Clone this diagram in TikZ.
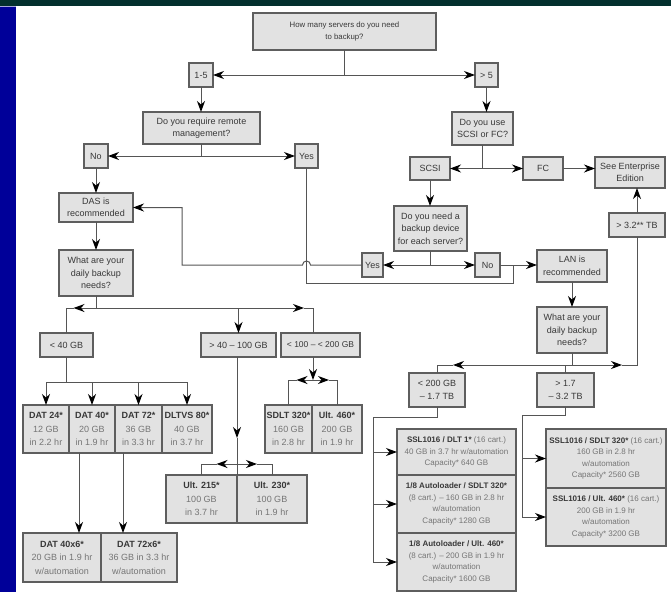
\documentclass[tikz,border=0pt]{standalone}
\usepackage{fontspec}
\setmainfont{Liberation Sans}
\usetikzlibrary{arrows.meta}
\definecolor{band}{HTML}{03302E}
\definecolor{sidebar}{HTML}{000099}
\definecolor{boxfill}{HTML}{E2E2E2}
\definecolor{boxline}{HTML}{5E5E5E}
\definecolor{wirecol}{HTML}{555555}
\definecolor{dimtext}{HTML}{757575}
\newcommand{\lite}[1]{\textcolor{dimtext}{#1}}
\tikzset{
  box/.style={draw=boxline, fill=boxfill, line width=1.1pt, align=center,
    inner sep=0.5pt, outer sep=0pt, text=black!78},
  qbox/.style={box, font=\fontsize{9}{12.5}\selectfont},
  databox/.style={box, font=\fontsize{9}{13.5}\selectfont},
  stackbox/.style={box, font=\fontsize{8}{11.5}\selectfont},
  wire/.style={draw=wirecol, line width=1pt},
  arr/.style={wire, -{Stealth[length=11pt,width=8pt,inset=3.5pt,color=black]}},
}

\begin{document}
\begin{tikzpicture}[x=1pt,y=-1pt]
  \useasboundingbox (0,0) rectangle (671,592);
  % page frame
  \fill[band] (0,0) rectangle (671,6);
  \fill[sidebar] (0,6) rectangle (16,592);
  \fill[sidebar!35!white] (0,6) rectangle (16,7.2);

  % questions and answers
  \node[qbox, font=\fontsize{7.8}{12.5}\selectfont, minimum width=183, minimum height=37] (q1) at (344.5,31.5) {How many servers do you need\\to backup?};
  \node[qbox, minimum size=24] (n15) at (201,75) {1-5};
  \node[qbox, minimum width=23, minimum height=24] (n5) at (486.5,75) {> 5};
  \node[qbox, minimum width=117, minimum height=32] (qremote) at (201.5,128) {Do you require remote\\management?};
  \node[qbox, minimum width=61, minimum height=33] (qscsi) at (482.5,128.5) {Do you use\\SCSI or FC?};
  \node[qbox, minimum size=24] (rno) at (96,156) {No};
  \node[qbox, minimum width=23, minimum height=24] (ryes) at (306.5,156) {Yes};
  \node[qbox, minimum width=74, minimum height=29] (das) at (96,207.5) {DAS is\\recommended};
  \node[qbox, minimum width=40, minimum height=23] (scsi) at (430,168.5) {SCSI};
  \node[qbox, minimum width=40, minimum height=23] (fc) at (543,168.5) {FC};
  \node[qbox, minimum width=70, minimum height=31] (enterp) at (630,172.5) {See Enterprise\\Edition};
  \node[qbox, minimum width=73, minimum height=45] (qdev) at (430.5,228.5) {Do you need a\\backup device\\for each server?};
  \node[qbox, minimum width=21, minimum height=24] (dyes) at (372.5,265) {Yes};
  \node[qbox, minimum width=25, minimum height=24] (dno) at (487.5,265) {No};
  \node[qbox, minimum width=70, minimum height=32] (lan) at (572,266) {LAN is\\recommended};
  \node[qbox, minimum width=56, minimum height=24] (big) at (637,225) {> 3.2** TB};
  \node[qbox, minimum width=74, minimum height=46] (needl) at (96,273) {What are your\\daily backup\\needs?};
  \node[qbox, minimum width=70, minimum height=46] (needr) at (572,330) {What are your\\daily backup\\needs?};
  \node[qbox, minimum width=53, minimum height=24] (lt40) at (66.5,345) {< 40 GB};
  \node[qbox, minimum width=75, minimum height=24] (mid) at (238.5,345) {> 40 – 100 GB};
  \node[qbox, font=\fontsize{8.5}{12.5}\selectfont, minimum width=79, minimum height=24] (hi) at (320.5,345) {< 100 – < 200 GB};
  \node[qbox, minimum width=56, minimum height=34] (lo) at (437,390) {< 200 GB\\– 1.7 TB};
  \node[qbox, minimum width=57, minimum height=34] (up) at (565.5,390) {> 1.7\\– 3.2 TB};

  % drives
  \foreach \dname/\dx/\dw/\dtitle/\dsize/\dtime in {
      dat24/46/46/DAT 24*/12 GB/in 2.2 hr,
      dat40/92/46/DAT 40*/20 GB/in 1.9 hr,
      dat72/138.5/47/DAT 72*/36 GB/in 3.3 hr,
      datvs/187/50/DLTVS 80*/40 GB/in 3.7 hr,
      sdlt/288.5/47/SDLT 320*/160 GB/in 2.8 hr,
      ult460/337/50/Ult. 460*/200 GB/in 1.9 hr} {
    \node[databox, minimum width=\dw, minimum height=48] (\dname) at (\dx,429) {\textbf{\dtitle}\\\lite{\dsize}\\\lite{\dtime}};
  }
  \node[databox, minimum width=71, minimum height=48] (ult215) at (201.5,499) {\textbf{Ult. 215*}\\\lite{100 GB}\\\lite{in 3.7 hr}};
  \node[databox, minimum width=70, minimum height=48] (ult230) at (272,499) {\textbf{Ult. 230*}\\\lite{100 GB}\\\lite{in 1.9 hr}};
  \node[databox, minimum width=78, minimum height=49] (dat40x6) at (62,557.5) {\textbf{DAT 40x6*}\\\lite{20 GB in 1.9 hr}\\\lite{w/automation}};
  \node[databox, minimum width=76, minimum height=49] (dat72x6) at (139,557.5) {\textbf{DAT 72x6*}\\\lite{36 GB in 3.3 hr}\\\lite{w/automation}};

  % tape libraries
  \node[stackbox, minimum width=119, minimum height=46] (ssl1) at (456.5,452) {\textbf{SSL1016 / DLT 1*} \lite{(16 cart.)}\\\lite{40 GB in 3.7 hr w/automation}\\\lite{Capacity* 640 GB}};
  \node[stackbox, minimum width=119, minimum height=58] (al1) at (456.5,504) {\textbf{1/8 Autoloader / SDLT 320*}\\\lite{(8 cart.) – 160 GB in 2.8 hr}\\\lite{w/automation}\\\lite{Capacity* 1280 GB}};
  \node[stackbox, minimum width=119, minimum height=58] (al2) at (456.5,562) {\textbf{1/8 Autoloader / Ult. 460*}\\\lite{(8 cart.) – 200 GB in 1.9 hr}\\\lite{w/automation}\\\lite{Capacity* 1600 GB}};
  \node[stackbox, minimum width=120, minimum height=59] (ssl2) at (606,458.5) {\textbf{SSL1016 / SDLT 320*} \lite{(16 cart.)}\\\lite{160 GB in 2.8 hr}\\\lite{w/automation}\\\lite{Capacity* 2560 GB}};
  \node[stackbox, minimum width=120, minimum height=58] (ssl3) at (606,517) {\textbf{SSL1016 / Ult. 460*} \lite{(16 cart.)}\\\lite{200 GB in 1.9 hr}\\\lite{w/automation}\\\lite{Capacity* 3200 GB}};

  % server count
  \coordinate (j1) at (q1.south |- n15);
  \draw[wire] (q1.south) -- (j1);
  \draw[arr] (j1) -- (n15.east);
  \draw[arr] (j1) -- (n5.west);
  \draw[arr] (n15.south) -- (n15.south |- qremote.north);
  \draw[arr] (n5.south) -- (n5.south |- qscsi.north);

  % remote management
  \coordinate (j2) at (qremote.south |- rno);
  \draw[wire] (qremote.south) -- (j2);
  \draw[arr] (j2) -- (rno.east);
  \draw[arr] (j2) -- (ryes.west);
  \draw[arr] (rno.south) -- (das.north);
  \draw[arr] (das.south) -- (needl.north);

  % scsi or fc
  \coordinate (j3) at (qscsi.south |- scsi);
  \draw[wire] (qscsi.south) -- (j3);
  \draw[arr] (j3) -- (scsi.east);
  \draw[arr] (j3) -- (fc.west);
  \draw[arr] (fc.east) -- (fc.east -| enterp.west);
  \draw[arr] (scsi.south) -- (scsi.south |- qdev.north);
  \draw[arr] (big.north) -- (big.north |- enterp.south);

  % device per server
  \coordinate (j4) at (qdev.south |- dyes);
  \draw[wire] (qdev.south) -- (j4);
  \draw[arr] (j4) -- (dyes.east);
  \draw[arr] (j4) -- (dno.west);
  \draw[arr] (dno.east) -- (dno.east -| lan.west);
  \coordinate (ylan) at (513,283);
  \draw[wire] (ryes.south) |- (ylan) -- (ylan |- dno.east);
  \coordinate (hop) at (ryes.south |- dyes.west);
  \coordinate (back) at (182,265);
  \draw[arr] (dyes.west) -- ([xshift=4pt]hop) arc[start angle=0,end angle=180,radius=4pt] -- (back) |- (das.east);

  % daily needs, DAS side
  \coordinate (j5) at (96,308);
  \coordinate (c5l) at (j5 -| lt40.north);
  \coordinate (c5r) at (313,308);
  \draw[wire] (needl.south) -- (j5);
  \draw[arr] (j5) -- ([xshift=7pt]c5l);
  \draw[wire] ([xshift=7pt]c5l) -- (c5l) -- (lt40.north);
  \draw[arr] (j5) -- ([xshift=-9pt]c5r);
  \draw[wire] ([xshift=-9pt]c5r) -- (c5r) -- (c5r |- hi.north);
  \draw[arr] (j5 -| mid.north) -- (mid.north);

  % < 40 GB
  \coordinate (j6) at (66.5,382);
  \draw[wire] (lt40.south) -- (j6);
  \draw[wire] (j6 -| dat24.north) -- (j6 -| datvs.north);
  \foreach \d in {dat24,dat40,dat72,datvs}
    \draw[arr] (j6 -| \d.north) -- (\d.north);
  \draw[arr] ([xshift=-13pt]dat40.south) -- ([xshift=-13pt]dat40.south |- dat40x6.north);
  \draw[arr] ([xshift=-15.5pt]dat72.south) -- ([xshift=-15.5pt]dat72.south |- dat72x6.north);

  % > 40 - 100 GB
  \coordinate (j7) at (237,464);
  \coordinate (m1) at (237,438);
  \coordinate (c7l) at (j7 -| ult215.north);
  \coordinate (c7r) at (j7 -| ult230.north);
  \draw[arr] (mid.south -| j7) -- (m1);
  \draw[wire] (m1) -- (ult215.north east);
  \draw[arr] (j7) -- ([xshift=15pt]c7l);
  \draw[wire] ([xshift=15pt]c7l) -- (c7l) -- (ult215.north);
  \draw[arr] (j7) -- ([xshift=-15pt]c7r);
  \draw[wire] ([xshift=-15pt]c7r) -- (c7r) -- (ult230.north);

  % < 100 - < 200 GB
  \coordinate (j8) at (313,380);
  \coordinate (c8l) at (j8 -| sdlt.north);
  \coordinate (c8r) at (j8 -| ult460.north);
  \draw[arr] (c5r |- hi.south) -- (j8);
  \draw[arr] (j8) -- ([xshift=8pt]c8l);
  \draw[wire] ([xshift=8pt]c8l) -- (c8l) -- (sdlt.north);
  \draw[arr] (j8) -- ([xshift=-8pt]c8r);
  \draw[wire] ([xshift=-8pt]c8r) -- (c8r) -- (ult460.north);

  % daily needs, LAN side
  \draw[arr] (lan.south) -- (needr.north);
  \coordinate (j9) at (572,365);
  \coordinate (c9l) at (j9 -| lo.north);
  \coordinate (c9r) at (j9 -| big.south);
  \draw[wire] (needr.south) -- (j9);
  \draw[arr] (j9) -- ([xshift=16pt]c9l);
  \draw[wire] ([xshift=16pt]c9l) -- (c9l) -- (lo.north);
  \draw[arr] (j9) -- ([xshift=-15pt]c9r);
  \draw[wire] ([xshift=-15pt]c9r) -- (c9r) -- (big.south);
  \draw[wire] (j9 -| up.north) -- (up.north);

  % libraries
  \coordinate (lb) at (373,417);
  \draw[wire] (lo.south) |- (lb) -- (lb |- al2.west);
  \foreach \s in {ssl1,al1,al2}
    \draw[arr] (lb |- \s.west) -- (\s.west);
  \coordinate (ub) at (522,415);
  \draw[wire] (up.south) |- (ub) -- (ub |- ssl3.west);
  \foreach \s in {ssl2,ssl3}
    \draw[arr] (ub |- \s.west) -- (\s.west);
\end{tikzpicture}
\end{document}
